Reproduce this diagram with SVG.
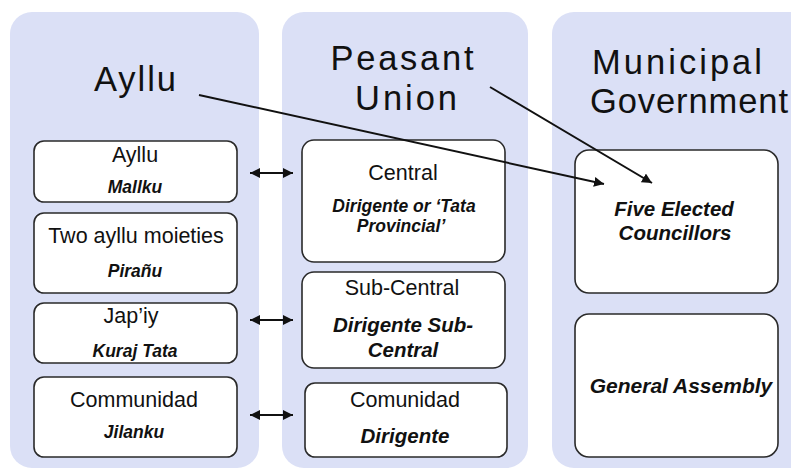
<svg xmlns="http://www.w3.org/2000/svg" width="791" height="472" viewBox="0 0 791 472">
<style>
.panel{fill:#dbe0f6;}
.box{fill:#fff;stroke:#2a2a2a;stroke-width:1.6;}
text{font-family:"Liberation Sans",Arial,sans-serif;fill:#111;text-anchor:middle;}
.title{font-size:34.5px;}
.reg{font-size:21.5px;}
.bi{font-weight:bold;font-style:italic;}
.s1{font-size:17.5px;}
.s2{font-size:20.5px;}
.line{stroke:#111;stroke-width:2;fill:none;}
</style>
<defs>
<marker id="ah" viewBox="0 0 10 10" refX="10" refY="5" markerWidth="5" markerHeight="5" orient="auto-start-reverse" markerUnits="strokeWidth">
<path d="M0,0 L10,5 L0,10 z" fill="#111"/>
</marker>
</defs>
<rect width="791" height="472" fill="#fff"/>
<g id="panel-ayllu">
<rect class="panel" x="10" y="12" width="249" height="456" rx="22"/>
<text class="title" x="135" y="91" textLength="82" lengthAdjust="spacing">Ayllu</text>
</g>
<g id="panel-union">
<rect class="panel" x="282" y="12" width="246" height="456" rx="22"/>
<text class="title" x="402" y="70" textLength="143" lengthAdjust="spacing">Peasant</text>
<text class="title" x="406" y="110" textLength="102" lengthAdjust="spacing">Union</text>
</g>
<g id="panel-municipal">
<rect class="panel" x="552" y="12" width="260" height="456" rx="22"/>
<text class="title" x="677" y="74" textLength="170" lengthAdjust="spacing">Municipal</text>
<text class="title" x="689" y="113" textLength="198" lengthAdjust="spacing">Government</text>
</g>
<g id="node-ayllu">
<rect class="box" x="34" y="141" width="203" height="61" rx="10"/>
<text class="reg" x="135" y="162">Ayllu</text>
<text class="bi s1" x="135" y="193">Mallku</text>
</g>
<g id="node-moieties">
<rect class="box" x="34" y="213" width="203" height="80" rx="10"/>
<text class="reg" x="136" y="243">Two ayllu moieties</text>
<text class="bi s1" x="135" y="277">Pirañu</text>
</g>
<g id="node-japiy">
<rect class="box" x="34" y="303" width="203" height="60" rx="10"/>
<text class="reg" x="131" y="323">Jap’iy</text>
<text class="bi s1" x="135" y="357">Kuraj  Tata</text>
</g>
<g id="node-communidad">
<rect class="box" x="34" y="377" width="203" height="80" rx="10"/>
<text class="reg" x="134" y="407">Communidad</text>
<text class="bi s1" x="134" y="438">Jilanku</text>
</g>
<g id="node-central">
<rect class="box" x="302" y="140" width="203" height="122" rx="12"/>
<text class="reg" x="403" y="180">Central</text>
<text class="bi s1" x="404" y="212">Dirigente or ‘Tata</text>
<text class="bi s1" x="401" y="232">Provincial’</text>
</g>
<g id="node-subcentral">
<rect class="box" x="302" y="272" width="203" height="96" rx="12"/>
<text class="reg" x="402" y="295">Sub-Central</text>
<text class="bi s2" x="403" y="332">Dirigente Sub-</text>
<text class="bi s2" x="403" y="357">Central</text>
</g>
<g id="node-comunidad">
<rect class="box" x="305" y="383" width="202" height="74" rx="10"/>
<text class="reg" x="405" y="407">Comunidad</text>
<text class="bi s2" x="405" y="443">Dirigente</text>
</g>
<g id="node-councillors">
<rect class="box" x="575" y="150" width="203" height="143" rx="14"/>
<text class="bi s2" x="674" y="216">Five Elected</text>
<text class="bi s2" x="675" y="240">Councillors</text>
</g>
<g id="node-assembly">
<rect class="box" x="575" y="314" width="203" height="143" rx="14"/>
<text class="bi" x="681" y="393" style="font-size:21px">General Assembly</text>
</g>
<g id="connectors">
<line class="line" x1="199" y1="95" x2="604" y2="184" marker-end="url(#ah)"/>
<line class="line" x1="490" y1="87" x2="652" y2="183" marker-end="url(#ah)"/>
<line class="line" x1="250" y1="173" x2="293" y2="173" marker-start="url(#ah)" marker-end="url(#ah)"/>
<line class="line" x1="250" y1="320" x2="293" y2="320" marker-start="url(#ah)" marker-end="url(#ah)"/>
<line class="line" x1="250" y1="415" x2="293" y2="415" marker-start="url(#ah)" marker-end="url(#ah)"/>
</g>
</svg>
